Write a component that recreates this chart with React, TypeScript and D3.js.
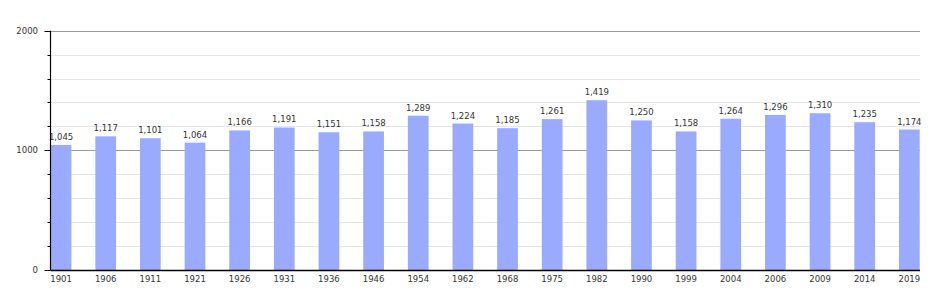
import React from "react";
import * as d3 from "d3";

const years = ["1901","1906","1911","1921","1926","1931","1936","1946","1954","1962","1968","1975","1982","1990","1999","2004","2006","2009","2014","2019"];
const population = [1045,1117,1101,1064,1166,1191,1151,1158,1289,1224,1185,1261,1419,1250,1158,1264,1296,1310,1235,1174];
const majorTicks = [0, 1000, 2000];
const minorTicks = [200,400,600,800,1200,1400,1600,1800];

export default function App() {
  const W = 950, H = 300;
  const left = 50.5, right = 920;
  const x = d3.scaleBand<string>().domain(years).range([50.7, 919.7]).paddingInner(0.536).paddingOuter(0);
  const y = d3.scaleLinear().domain([0, 2000]).range([270, 30.7]);
  const fmt = d3.format(",");
  const font = "'DejaVu Sans', Verdana, sans-serif";
  const fs = 8.5;
  return (
    <svg width={W} height={H} style={{ position: "absolute", left: 0, top: 0, display: "block", background: "#fff" }}>
      {minorTicks.map(t => (
        <g key={"m" + t}>
          <line x1={left} x2={right} y1={Math.round(y(t)) + 0.5} y2={Math.round(y(t)) + 0.5} stroke="#e6e6e6" strokeWidth={1} />
          <line x1={left - 3} x2={left} y1={Math.round(y(t)) + 0.5} y2={Math.round(y(t)) + 0.5} stroke="#000" strokeWidth={1} />
        </g>
      ))}
      {majorTicks.filter(t => t > 0).map(t => (
        <line key={"M" + t} x1={left} x2={right} y1={Math.round(y(t)) + 0.5} y2={Math.round(y(t)) + 0.5} stroke="#999" strokeWidth={1} />
      ))}
      {population.map((v, i) => (
        <rect key={years[i]} x={x(years[i])!} y={y(v)} width={x.bandwidth()} height={y(0) - y(v)} fill="#99aaff" />
      ))}
      {population.map((v, i) => (
        <text key={"l" + years[i]} x={x(years[i])! + x.bandwidth() / 2} y={y(v) - 5} textAnchor="middle" fontFamily={font} fontSize={fs} fill="#333">{fmt(v)}</text>
      ))}
      {majorTicks.map(t => (
        <g key={"t" + t}>
          <line x1={left - 6} x2={left} y1={Math.round(y(t)) + 0.5} y2={Math.round(y(t)) + 0.5} stroke="#000" strokeWidth={1} />
          <text x={38} y={y(t) + 3} textAnchor="end" fontFamily={font} fontSize={fs} fill="#333">{t}</text>
        </g>
      ))}
      <line x1={left} x2={left} y1={30.7} y2={270.5} stroke="#000" strokeWidth={1.2} />
      <line x1={left} x2={right} y1={270.5} y2={270.5} stroke="#000" strokeWidth={1.5} />
      {years.map(yr => (
        <text key={"x" + yr} x={x(yr)! + x.bandwidth() / 2} y={282} textAnchor="middle" fontFamily={font} fontSize={fs} fill="#333">{yr}</text>
      ))}
    </svg>
  );
}
